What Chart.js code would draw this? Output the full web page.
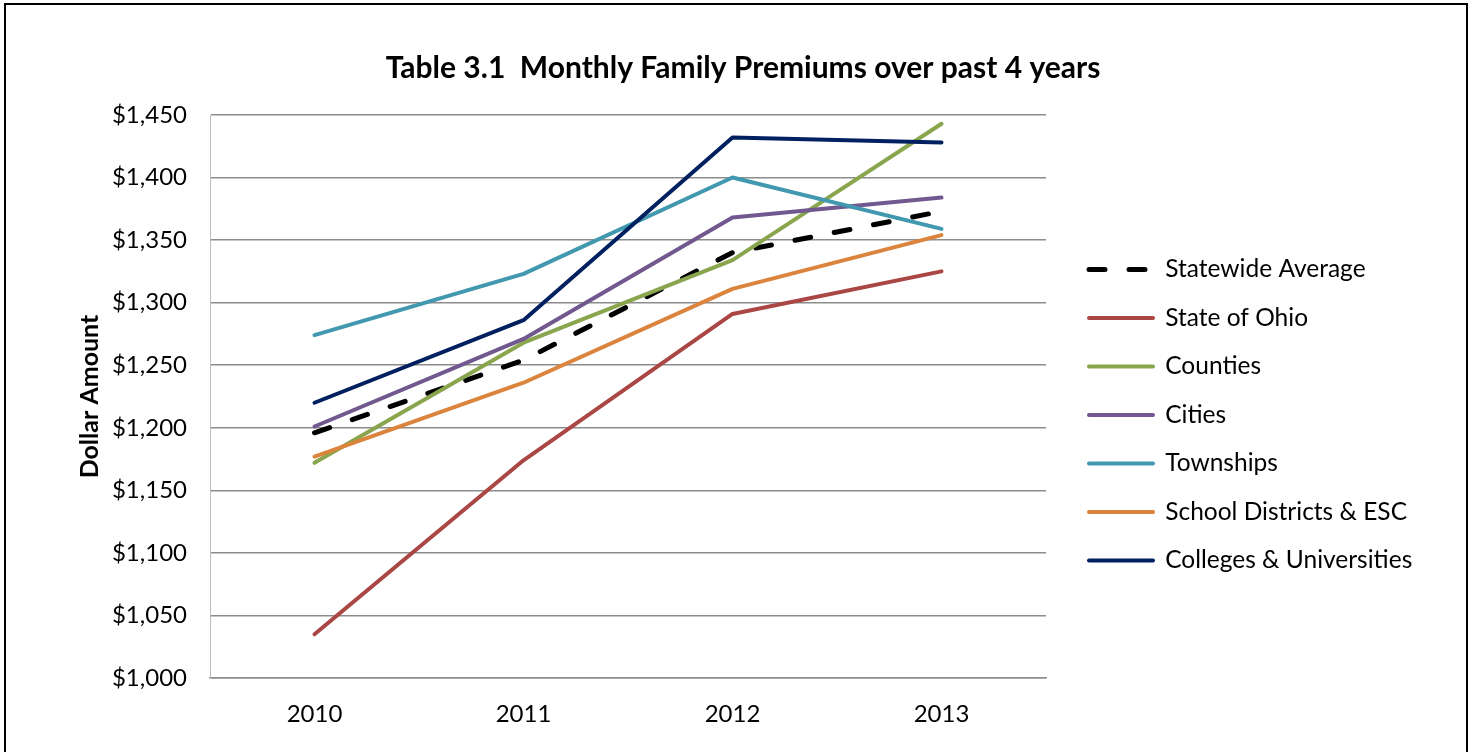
<!DOCTYPE html>
<html>
<head>
<meta charset="utf-8">
<title>Monthly Family Premiums</title>
<script src="https://cdn.jsdelivr.net/npm/chart.js@4.4.1/dist/chart.umd.min.js"></script>
<style>
  html, body { margin: 0; padding: 0; background: #fff; }
  #frame { position: absolute; left: 4px; top: 3px; width: 1464px; height: 800px; border: 2px solid #000; box-sizing: border-box; }
  #wrap { position: absolute; left: 0; top: 0; width: 1473px; height: 752px; }
</style>
</head>
<body>
<div id="frame"></div>
<div id="wrap"><canvas id="premiumChart"></canvas></div>
<script>
// values (monthly family premium, dollars)
const years = ['2010', '2011', '2012', '2013'];
const statewideAverage = [1196, 1254, 1340, 1373];
const stateOfOhio = [1035, 1174, 1291, 1325];
const counties = [1172, 1268, 1334, 1443];
const cities = [1201, 1271, 1368, 1384];
const townships = [1274, 1323, 1400, 1359];
const schoolDistricts = [1177, 1236, 1311, 1354];
const colleges = [1220, 1286, 1432, 1428];
const yMin = 1000, yMax = 1450, yStep = 50;

const FONT = 'Lato';
const legendFontSize = 24.5;
const legendPad = 24;
const legendLine = 64;

function line(label, data, color, dashed) {
    return {
        label: label,
        data: data,
        borderColor: color,
        backgroundColor: color,
        borderWidth: dashed ? 5 : 4,
        borderDash: dashed ? [16, 24] : [],
        borderCapStyle: 'round',
        borderJoinStyle: 'round',
        pointRadius: 0,
        pointHoverRadius: 0,
        tension: 0,
        fill: false
    };
}

const datasets = [
    line('Statewide Average', statewideAverage, '#000000', true),
    line('State of Ohio', stateOfOhio, '#AA4643'),
    line('Counties', counties, '#89A54E'),
    line('Cities', cities, '#71588F'),
    line('Townships', townships, '#4198AF'),
    line('School Districts & ESC', schoolDistricts, '#DB843D'),
    line('Colleges & Universities', colleges, '#002060')
];
// later series on top, like the original
datasets.forEach((d, i) => { d.order = datasets.length - i; });

function makeChart() {
    // legend width, so the plot area ends at x=1046 and the title sits at x=743
    const c = document.createElement('canvas').getContext('2d');
    c.font = legendFontSize + 'px ' + FONT;
    const widest = Math.max(...datasets.map(d => c.measureText(d.label).width));
    const lw = 2 * legendPad + legendLine + legendFontSize / 2 + widest - 14;
    const spacer = 1089 - 1046 - legendPad;
    const rightPad = 1473 - (1046 + spacer + lw);
    const leftPad = rightPad + 13;

    Chart.defaults.font.family = FONT;
    Chart.defaults.color = '#000';

    new Chart(document.getElementById('premiumChart'), {
        type: 'line',
        data: { labels: years, datasets: datasets },
        options: {
            responsive: true,
            maintainAspectRatio: false,
            animation: false,
            layout: { padding: { left: leftPad, right: rightPad, top: 0, bottom: 0 } },
            plugins: {
                title: {
                    display: true,
                    text: 'Table 3.1  Monthly Family Premiums over past 4 years',
                    font: { size: 30, weight: 'bold' },
                    padding: { top: 50, bottom: 29 }
                },
                legend: {
                    position: 'right',
                    maxWidth: 600,
                    title: { display: true, text: ' ', font: { size: 1 }, padding: { top: 0, bottom: 76.8 } },
                    labels: {
                        usePointStyle: true,
                        pointStyle: 'line',
                        pointStyleWidth: legendLine,
                        padding: legendPad,
                        font: { size: legendFontSize },
                        sort: (a, b) => a.datasetIndex - b.datasetIndex,
                        generateLabels: chart => Chart.defaults.plugins.legend.labels.generateLabels(chart).map(item => {
                            const ds = chart.data.datasets[item.datasetIndex];
                            item.lineDash = ds.borderDash;
                            item.lineCap = 'round';
                            item.lineWidth = ds.borderWidth;
                            item.strokeStyle = ds.borderColor;
                            return item;
                        })
                    }
                },
                tooltip: { enabled: false }
            },
            scales: {
                x: {
                    offset: true,
                    grid: { display: false, drawTicks: false },
                    border: { display: true, color: '#8c8c8c', width: 1.5 },
                    ticks: { padding: 22, font: { size: 24 } },
                    afterFit: s => { s.height = 74; }
                },
                y: {
                    min: yMin,
                    max: yMax,
                    grid: { color: '#8c8c8c', lineWidth: 1.5, drawTicks: false },
                    border: { display: true, color: '#bdbdbd', width: 1 },
                    ticks: {
                        stepSize: yStep,
                        padding: 23,
                        font: { size: 24 },
                        callback: v => '$' + v.toLocaleString('en-US')
                    },
                    title: {
                        display: true,
                        text: 'Dollar Amount',
                        font: { size: 25, weight: 'bold' },
                        padding: { top: 90 - leftPad - 15, bottom: 0 }
                    },
                    afterFit: s => { s.width = 210 - leftPad; }
                },
                spacer: {
                    position: 'right',
                    display: true,
                    grid: { display: false, drawTicks: false },
                    border: { display: false },
                    ticks: { display: false },
                    afterFit: s => { s.width = spacer; }
                }
            }
        }
    });
}

document.fonts.load(legendFontSize + 'px ' + FONT).then(makeChart, makeChart);
</script>
</body>
</html>
